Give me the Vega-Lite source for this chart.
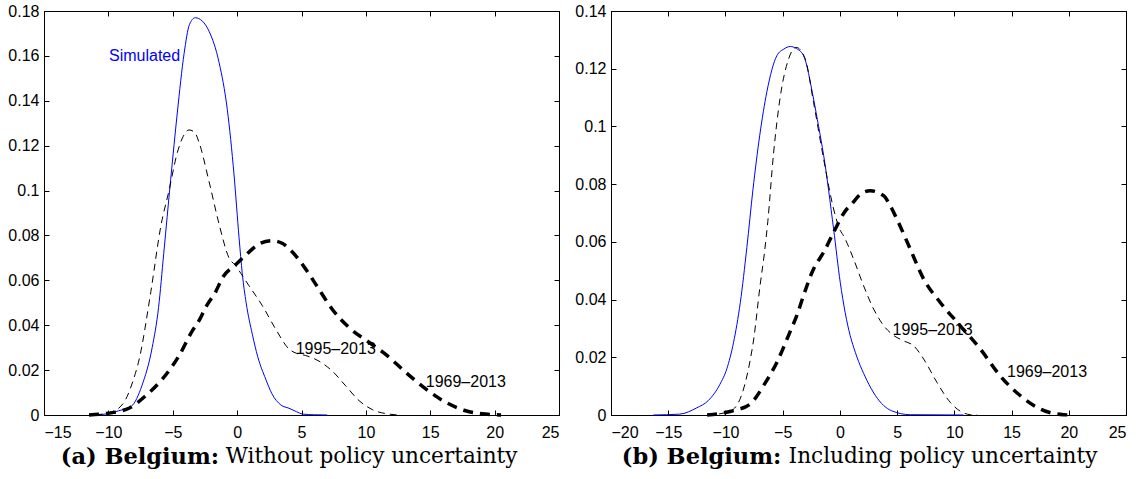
{
  "$schema": "https://vega.github.io/schema/vega-lite/v6.json",
  "padding": {"left": 7, "top": 2, "right": 5, "bottom": 5},
  "background": "white",
  "spacing": 14,
  "config": {
    "view": {"stroke": "black", "strokeWidth": 1},
    "axis": {
      "grid": false,
      "domainColor": "black",
      "tickColor": "black",
      "labelColor": "black",
      "labelFont": "Liberation Sans",
      "labelFontSize": 16,
      "tickSize": -5,
      "labelPadding": 14,
      "title": null
    },
    "text": {"font": "Liberation Sans", "fontSize": 16}
  },
  "datasets": {
    "curves": [
      {"panel": "a", "series": "Simulated", "x": -11.2, "y": 0},
      {"panel": "a", "series": "Simulated", "x": -10, "y": 0.0006},
      {"panel": "a", "series": "Simulated", "x": -9.2, "y": 0.0019},
      {"panel": "a", "series": "Simulated", "x": -8.2, "y": 0.004},
      {"panel": "a", "series": "Simulated", "x": -7.4, "y": 0.013},
      {"panel": "a", "series": "Simulated", "x": -6.6, "y": 0.03},
      {"panel": "a", "series": "Simulated", "x": -6.1, "y": 0.048},
      {"panel": "a", "series": "Simulated", "x": -5.7, "y": 0.072},
      {"panel": "a", "series": "Simulated", "x": -5.16, "y": 0.105},
      {"panel": "a", "series": "Simulated", "x": -4.64, "y": 0.135},
      {"panel": "a", "series": "Simulated", "x": -4.12, "y": 0.161},
      {"panel": "a", "series": "Simulated", "x": -3.7, "y": 0.174},
      {"panel": "a", "series": "Simulated", "x": -3.25, "y": 0.177},
      {"panel": "a", "series": "Simulated", "x": -2.7, "y": 0.1755},
      {"panel": "a", "series": "Simulated", "x": -2.18, "y": 0.171},
      {"panel": "a", "series": "Simulated", "x": -1.4, "y": 0.157},
      {"panel": "a", "series": "Simulated", "x": -0.76, "y": 0.136},
      {"panel": "a", "series": "Simulated", "x": -0.24, "y": 0.107},
      {"panel": "a", "series": "Simulated", "x": 0.15, "y": 0.079},
      {"panel": "a", "series": "Simulated", "x": 0.4, "y": 0.063},
      {"panel": "a", "series": "Simulated", "x": 0.7, "y": 0.05},
      {"panel": "a", "series": "Simulated", "x": 1.18, "y": 0.036},
      {"panel": "a", "series": "Simulated", "x": 1.6, "y": 0.026},
      {"panel": "a", "series": "Simulated", "x": 2.22, "y": 0.016},
      {"panel": "a", "series": "Simulated", "x": 2.7, "y": 0.0095},
      {"panel": "a", "series": "Simulated", "x": 3.39, "y": 0.0045},
      {"panel": "a", "series": "Simulated", "x": 4.03, "y": 0.003},
      {"panel": "a", "series": "Simulated", "x": 4.6, "y": 0.0015},
      {"panel": "a", "series": "Simulated", "x": 5.1, "y": 0.0004},
      {"panel": "a", "series": "Simulated", "x": 6, "y": 0.0001},
      {"panel": "a", "series": "Simulated", "x": 7, "y": 0},
      {"panel": "a", "series": "1995–2013", "x": -11, "y": 0},
      {"panel": "a", "series": "1995–2013", "x": -10.2, "y": 0.0007},
      {"panel": "a", "series": "1995–2013", "x": -9.7, "y": 0.0015},
      {"panel": "a", "series": "1995–2013", "x": -9.2, "y": 0.003},
      {"panel": "a", "series": "1995–2013", "x": -8.65, "y": 0.007},
      {"panel": "a", "series": "1995–2013", "x": -8.1, "y": 0.015},
      {"panel": "a", "series": "1995–2013", "x": -7.6, "y": 0.025},
      {"panel": "a", "series": "1995–2013", "x": -6.7, "y": 0.055},
      {"panel": "a", "series": "1995–2013", "x": -5.93, "y": 0.084},
      {"panel": "a", "series": "1995–2013", "x": -5.29, "y": 0.1},
      {"panel": "a", "series": "1995–2013", "x": -4.64, "y": 0.117},
      {"panel": "a", "series": "1995–2013", "x": -4.2, "y": 0.124},
      {"panel": "a", "series": "1995–2013", "x": -3.74, "y": 0.127},
      {"panel": "a", "series": "1995–2013", "x": -3.3, "y": 0.126},
      {"panel": "a", "series": "1995–2013", "x": -2.96, "y": 0.1215},
      {"panel": "a", "series": "1995–2013", "x": -2.18, "y": 0.104},
      {"panel": "a", "series": "1995–2013", "x": -1.4, "y": 0.085},
      {"panel": "a", "series": "1995–2013", "x": -0.63, "y": 0.07},
      {"panel": "a", "series": "1995–2013", "x": -0.11, "y": 0.0665},
      {"panel": "a", "series": "1995–2013", "x": 0.3, "y": 0.063},
      {"panel": "a", "series": "1995–2013", "x": 0.92, "y": 0.0576},
      {"panel": "a", "series": "1995–2013", "x": 1.96, "y": 0.0487},
      {"panel": "a", "series": "1995–2013", "x": 2.99, "y": 0.0383},
      {"panel": "a", "series": "1995–2013", "x": 4.03, "y": 0.0294},
      {"panel": "a", "series": "1995–2013", "x": 4.6, "y": 0.0275},
      {"panel": "a", "series": "1995–2013", "x": 5.33, "y": 0.0265},
      {"panel": "a", "series": "1995–2013", "x": 6.36, "y": 0.024},
      {"panel": "a", "series": "1995–2013", "x": 7.4, "y": 0.0195},
      {"panel": "a", "series": "1995–2013", "x": 8.43, "y": 0.013},
      {"panel": "a", "series": "1995–2013", "x": 9.47, "y": 0.0064},
      {"panel": "a", "series": "1995–2013", "x": 10.5, "y": 0.0024},
      {"panel": "a", "series": "1995–2013", "x": 11.8, "y": 0.0004},
      {"panel": "a", "series": "1995–2013", "x": 12.5, "y": 0},
      {"panel": "a", "series": "1969–2013", "x": -11.5, "y": 0},
      {"panel": "a", "series": "1969–2013", "x": -10, "y": 0.0008},
      {"panel": "a", "series": "1969–2013", "x": -9, "y": 0.0018},
      {"panel": "a", "series": "1969–2013", "x": -8.4, "y": 0.003},
      {"panel": "a", "series": "1969–2013", "x": -7.1, "y": 0.0086},
      {"panel": "a", "series": "1969–2013", "x": -5.81, "y": 0.016},
      {"panel": "a", "series": "1969–2013", "x": -4.51, "y": 0.0264},
      {"panel": "a", "series": "1969–2013", "x": -3.48, "y": 0.0375},
      {"panel": "a", "series": "1969–2013", "x": -2.96, "y": 0.042},
      {"panel": "a", "series": "1969–2013", "x": -2.44, "y": 0.048},
      {"panel": "a", "series": "1969–2013", "x": -1.66, "y": 0.055},
      {"panel": "a", "series": "1969–2013", "x": -1.15, "y": 0.061},
      {"panel": "a", "series": "1969–2013", "x": -0.11, "y": 0.067},
      {"panel": "a", "series": "1969–2013", "x": 0.92, "y": 0.0726},
      {"panel": "a", "series": "1969–2013", "x": 1.8, "y": 0.0765},
      {"panel": "a", "series": "1969–2013", "x": 2.7, "y": 0.0777},
      {"panel": "a", "series": "1969–2013", "x": 3.5, "y": 0.0765},
      {"panel": "a", "series": "1969–2013", "x": 4.29, "y": 0.0726},
      {"panel": "a", "series": "1969–2013", "x": 5.33, "y": 0.065},
      {"panel": "a", "series": "1969–2013", "x": 6.36, "y": 0.056},
      {"panel": "a", "series": "1969–2013", "x": 7.4, "y": 0.047},
      {"panel": "a", "series": "1969–2013", "x": 8.69, "y": 0.039},
      {"panel": "a", "series": "1969–2013", "x": 10.24, "y": 0.0324},
      {"panel": "a", "series": "1969–2013", "x": 11.54, "y": 0.027},
      {"panel": "a", "series": "1969–2013", "x": 13.1, "y": 0.019},
      {"panel": "a", "series": "1969–2013", "x": 14.65, "y": 0.0116},
      {"panel": "a", "series": "1969–2013", "x": 16.2, "y": 0.0057},
      {"panel": "a", "series": "1969–2013", "x": 17.76, "y": 0.0019},
      {"panel": "a", "series": "1969–2013", "x": 19.3, "y": 0.0004},
      {"panel": "a", "series": "1969–2013", "x": 20.5, "y": 0},
      {"panel": "b", "series": "Simulated", "x": -16.3, "y": 0},
      {"panel": "b", "series": "Simulated", "x": -14, "y": 0.0003},
      {"panel": "b", "series": "Simulated", "x": -12.5, "y": 0.0025},
      {"panel": "b", "series": "Simulated", "x": -11.5, "y": 0.005},
      {"panel": "b", "series": "Simulated", "x": -10.5, "y": 0.0105},
      {"panel": "b", "series": "Simulated", "x": -9.88, "y": 0.016},
      {"panel": "b", "series": "Simulated", "x": -9.3, "y": 0.025},
      {"panel": "b", "series": "Simulated", "x": -8.7, "y": 0.039},
      {"panel": "b", "series": "Simulated", "x": -8.13, "y": 0.058},
      {"panel": "b", "series": "Simulated", "x": -7.6, "y": 0.078},
      {"panel": "b", "series": "Simulated", "x": -7.0, "y": 0.097},
      {"panel": "b", "series": "Simulated", "x": -6.38, "y": 0.112},
      {"panel": "b", "series": "Simulated", "x": -5.51, "y": 0.1245},
      {"panel": "b", "series": "Simulated", "x": -4.9, "y": 0.1268},
      {"panel": "b", "series": "Simulated", "x": -4.34, "y": 0.1277},
      {"panel": "b", "series": "Simulated", "x": -3.8, "y": 0.127},
      {"panel": "b", "series": "Simulated", "x": -3.17, "y": 0.1245},
      {"panel": "b", "series": "Simulated", "x": -2.3, "y": 0.1095},
      {"panel": "b", "series": "Simulated", "x": -1.86, "y": 0.1},
      {"panel": "b", "series": "Simulated", "x": -1.42, "y": 0.09},
      {"panel": "b", "series": "Simulated", "x": -0.55, "y": 0.0645},
      {"panel": "b", "series": "Simulated", "x": 0.03, "y": 0.046},
      {"panel": "b", "series": "Simulated", "x": 0.9, "y": 0.0275},
      {"panel": "b", "series": "Simulated", "x": 1.2, "y": 0.0235},
      {"panel": "b", "series": "Simulated", "x": 2.36, "y": 0.012},
      {"panel": "b", "series": "Simulated", "x": 3.82, "y": 0.0033},
      {"panel": "b", "series": "Simulated", "x": 4.5, "y": 0.0015},
      {"panel": "b", "series": "Simulated", "x": 6.15, "y": 0.0001},
      {"panel": "b", "series": "Simulated", "x": 10.8, "y": 0},
      {"panel": "b", "series": "1995–2013", "x": -11.6, "y": 0},
      {"panel": "b", "series": "1995–2013", "x": -10, "y": 0.0008},
      {"panel": "b", "series": "1995–2013", "x": -9.3, "y": 0.002},
      {"panel": "b", "series": "1995–2013", "x": -8.42, "y": 0.009},
      {"panel": "b", "series": "1995–2013", "x": -7.84, "y": 0.019},
      {"panel": "b", "series": "1995–2013", "x": -7.54, "y": 0.026},
      {"panel": "b", "series": "1995–2013", "x": -6.97, "y": 0.045},
      {"panel": "b", "series": "1995–2013", "x": -6.6, "y": 0.056},
      {"panel": "b", "series": "1995–2013", "x": -6.3, "y": 0.067},
      {"panel": "b", "series": "1995–2013", "x": -5.8, "y": 0.0905},
      {"panel": "b", "series": "1995–2013", "x": -5.22, "y": 0.11},
      {"panel": "b", "series": "1995–2013", "x": -4.48, "y": 0.1234},
      {"panel": "b", "series": "1995–2013", "x": -3.82, "y": 0.1274},
      {"panel": "b", "series": "1995–2013", "x": -3.03, "y": 0.1234},
      {"panel": "b", "series": "1995–2013", "x": -2.3, "y": 0.1083},
      {"panel": "b", "series": "1995–2013", "x": -1.42, "y": 0.0887},
      {"panel": "b", "series": "1995–2013", "x": -0.55, "y": 0.0714},
      {"panel": "b", "series": "1995–2013", "x": 0.03, "y": 0.064},
      {"panel": "b", "series": "1995–2013", "x": 0.32, "y": 0.0621},
      {"panel": "b", "series": "1995–2013", "x": 1.2, "y": 0.054},
      {"panel": "b", "series": "1995–2013", "x": 2.07, "y": 0.0448},
      {"panel": "b", "series": "1995–2013", "x": 2.95, "y": 0.0367},
      {"panel": "b", "series": "1995–2013", "x": 3.82, "y": 0.031},
      {"panel": "b", "series": "1995–2013", "x": 4.55, "y": 0.028},
      {"panel": "b", "series": "1995–2013", "x": 5.57, "y": 0.0257},
      {"panel": "b", "series": "1995–2013", "x": 6.44, "y": 0.024},
      {"panel": "b", "series": "1995–2013", "x": 7.32, "y": 0.0194},
      {"panel": "b", "series": "1995–2013", "x": 8.48, "y": 0.0113},
      {"panel": "b", "series": "1995–2013", "x": 9.64, "y": 0.0044},
      {"panel": "b", "series": "1995–2013", "x": 11.4, "y": 0.0001},
      {"panel": "b", "series": "1995–2013", "x": 12, "y": 0},
      {"panel": "b", "series": "1969–2013", "x": -11.6, "y": 0},
      {"panel": "b", "series": "1969–2013", "x": -10.5, "y": 0.0005},
      {"panel": "b", "series": "1969–2013", "x": -9.3, "y": 0.0015},
      {"panel": "b", "series": "1969–2013", "x": -7.84, "y": 0.0038},
      {"panel": "b", "series": "1969–2013", "x": -6.67, "y": 0.0102},
      {"panel": "b", "series": "1969–2013", "x": -5.5, "y": 0.0183},
      {"panel": "b", "series": "1969–2013", "x": -4.34, "y": 0.029},
      {"panel": "b", "series": "1969–2013", "x": -3.76, "y": 0.0345},
      {"panel": "b", "series": "1969–2013", "x": -3.17, "y": 0.0415},
      {"panel": "b", "series": "1969–2013", "x": -2.3, "y": 0.0506},
      {"panel": "b", "series": "1969–2013", "x": -1.72, "y": 0.0545},
      {"panel": "b", "series": "1969–2013", "x": -1.42, "y": 0.0564},
      {"panel": "b", "series": "1969–2013", "x": -0.55, "y": 0.0633},
      {"panel": "b", "series": "1969–2013", "x": 0.61, "y": 0.0714},
      {"panel": "b", "series": "1969–2013", "x": 0.9, "y": 0.0725},
      {"panel": "b", "series": "1969–2013", "x": 1.8, "y": 0.0765},
      {"panel": "b", "series": "1969–2013", "x": 2.65, "y": 0.0777},
      {"panel": "b", "series": "1969–2013", "x": 3.82, "y": 0.076},
      {"panel": "b", "series": "1969–2013", "x": 4.4, "y": 0.0725},
      {"panel": "b", "series": "1969–2013", "x": 4.98, "y": 0.0679},
      {"panel": "b", "series": "1969–2013", "x": 6.15, "y": 0.0575},
      {"panel": "b", "series": "1969–2013", "x": 7.32, "y": 0.0471},
      {"panel": "b", "series": "1969–2013", "x": 8.77, "y": 0.039},
      {"panel": "b", "series": "1969–2013", "x": 10.5, "y": 0.031},
      {"panel": "b", "series": "1969–2013", "x": 12.26, "y": 0.0229},
      {"panel": "b", "series": "1969–2013", "x": 14, "y": 0.0136},
      {"panel": "b", "series": "1969–2013", "x": 15.76, "y": 0.0067},
      {"panel": "b", "series": "1969–2013", "x": 17.5, "y": 0.0021},
      {"panel": "b", "series": "1969–2013", "x": 19.55, "y": 0.0001},
      {"panel": "b", "series": "1969–2013", "x": 20.4, "y": 0}
    ],
    "labels": [
      {"panel": "a", "label": "Simulated", "x": -9.95, "y": 0.16, "color": "blue"},
      {"panel": "a", "label": "1995–2013", "x": 4.55, "y": 0.0294, "color": "black"},
      {"panel": "a", "label": "1969–2013", "x": 14.65, "y": 0.0148, "color": "black"},
      {"panel": "b", "label": "1995–2013", "x": 4.6, "y": 0.0295, "color": "black"},
      {"panel": "b", "label": "1969–2013", "x": 14.6, "y": 0.0148, "color": "black"}
    ],
    "captions": [
      {"panel": "a", "part": "bold", "text": "(a) Belgium:", "x": -13.7, "y": -0.0186},
      {"panel": "a", "part": "normal", "text": "Without policy uncertainty", "x": -0.89, "y": -0.0186},
      {"panel": "b", "part": "bold", "text": "(b) Belgium:", "x": -19.06, "y": -0.0145},
      {"panel": "b", "part": "normal", "text": "Including policy uncertainty", "x": -4.48, "y": -0.0145}
    ],
    "frame": [{"x": 0, "y": 0}]
  },
  "hconcat": [
    {
      "width": 515,
      "height": 404,
      "resolve": {"axis": {"x": "independent", "y": "independent"}},
      "layer": [
        {
          "data": {"name": "curves"},
          "transform": [{"filter": "datum.panel === 'a' && datum.series === 'Simulated'"}],
          "mark": {"type": "line", "interpolate": "monotone", "color": "#0000ff", "strokeWidth": 1},
          "encoding": {
            "x": {"field": "x", "type": "quantitative", "scale": {"domain": [-15, 25], "nice": false, "zero": false},
                  "axis": {"orient": "bottom", "values": [-15, -10, -5, 0, 5, 10, 15, 20, 25]}},
            "y": {"field": "y", "type": "quantitative", "scale": {"domain": [0, 0.18], "nice": false, "zero": false},
                  "axis": {"orient": "left", "values": [0, 0.02, 0.04, 0.06, 0.08, 0.1, 0.12, 0.14, 0.16, 0.18], "format": ".2~f", "labelPadding": 10}}
          }
        },
        {
          "data": {"name": "curves"},
          "transform": [{"filter": "datum.panel === 'a' && datum.series === '1995–2013'"}],
          "mark": {"type": "line", "interpolate": "monotone", "color": "black", "strokeWidth": 1, "strokeDash": [7, 5]},
          "encoding": {
            "x": {"field": "x", "type": "quantitative", "axis": null},
            "y": {"field": "y", "type": "quantitative", "axis": null}
          }
        },
        {
          "data": {"name": "curves"},
          "transform": [{"filter": "datum.panel === 'a' && datum.series === '1969–2013'"}],
          "mark": {"type": "line", "interpolate": "monotone", "color": "black", "strokeWidth": 3.5, "strokeDash": [10, 7]},
          "encoding": {
            "x": {"field": "x", "type": "quantitative", "axis": null},
            "y": {"field": "y", "type": "quantitative", "axis": null}
          }
        },
        {
          "data": {"name": "labels"},
          "transform": [{"filter": "datum.panel === 'a'"}],
          "mark": {"type": "text", "align": "left", "baseline": "middle", "fontSize": 16},
          "encoding": {
            "x": {"field": "x", "type": "quantitative", "axis": null},
            "y": {"field": "y", "type": "quantitative", "axis": null},
            "text": {"field": "label"},
            "color": {"field": "color", "type": "nominal", "scale": null}
          }
        },
        {
          "data": {"name": "captions"},
          "transform": [{"filter": "datum.panel === 'a' && datum.part === 'bold'"}],
          "mark": {"type": "text", "align": "left", "baseline": "middle", "font": "DejaVu Serif", "fontSize": 22.5, "fontWeight": "bold", "color": "black"},
          "encoding": {
            "x": {"field": "x", "type": "quantitative", "axis": null},
            "y": {"field": "y", "type": "quantitative", "axis": null},
            "text": {"field": "text"}
          }
        },
        {
          "data": {"name": "captions"},
          "transform": [{"filter": "datum.panel === 'a' && datum.part === 'normal'"}],
          "mark": {"type": "text", "align": "left", "baseline": "middle", "font": "DejaVu Serif", "fontSize": 21.6, "color": "black"},
          "encoding": {
            "x": {"field": "x", "type": "quantitative", "axis": null},
            "y": {"field": "y", "type": "quantitative", "axis": null},
            "text": {"field": "text"}
          }
        },
        {
          "data": {"name": "frame"},
          "mark": {"type": "point", "opacity": 0},
          "encoding": {
            "x": {"field": "x", "type": "quantitative", "axis": {"orient": "top", "labels": false, "values": [-15, -10, -5, 0, 5, 10, 15, 20, 25]}},
            "y": {"field": "y", "type": "quantitative", "axis": {"orient": "right", "labels": false, "values": [0, 0.02, 0.04, 0.06, 0.08, 0.1, 0.12, 0.14, 0.16, 0.18]}}
          }
        }
      ]
    },
    {
      "width": 515,
      "height": 404,
      "resolve": {"axis": {"x": "independent", "y": "independent"}},
      "layer": [
        {
          "data": {"name": "curves"},
          "transform": [{"filter": "datum.panel === 'b' && datum.series === 'Simulated'"}],
          "mark": {"type": "line", "interpolate": "monotone", "color": "#0000ff", "strokeWidth": 1},
          "encoding": {
            "x": {"field": "x", "type": "quantitative", "scale": {"domain": [-20, 25], "nice": false, "zero": false},
                  "axis": {"orient": "bottom", "values": [-20, -15, -10, -5, 0, 5, 10, 15, 20, 25]}},
            "y": {"field": "y", "type": "quantitative", "scale": {"domain": [0, 0.14], "nice": false, "zero": false},
                  "axis": {"orient": "left", "values": [0, 0.02, 0.04, 0.06, 0.08, 0.1, 0.12, 0.14], "format": ".2~f", "labelPadding": 10}}
          }
        },
        {
          "data": {"name": "curves"},
          "transform": [{"filter": "datum.panel === 'b' && datum.series === '1995–2013'"}],
          "mark": {"type": "line", "interpolate": "monotone", "color": "black", "strokeWidth": 1, "strokeDash": [7, 5]},
          "encoding": {
            "x": {"field": "x", "type": "quantitative", "axis": null},
            "y": {"field": "y", "type": "quantitative", "axis": null}
          }
        },
        {
          "data": {"name": "curves"},
          "transform": [{"filter": "datum.panel === 'b' && datum.series === '1969–2013'"}],
          "mark": {"type": "line", "interpolate": "monotone", "color": "black", "strokeWidth": 3.5, "strokeDash": [10, 7]},
          "encoding": {
            "x": {"field": "x", "type": "quantitative", "axis": null},
            "y": {"field": "y", "type": "quantitative", "axis": null}
          }
        },
        {
          "data": {"name": "labels"},
          "transform": [{"filter": "datum.panel === 'b'"}],
          "mark": {"type": "text", "align": "left", "baseline": "middle", "fontSize": 16},
          "encoding": {
            "x": {"field": "x", "type": "quantitative", "axis": null},
            "y": {"field": "y", "type": "quantitative", "axis": null},
            "text": {"field": "label"},
            "color": {"field": "color", "type": "nominal", "scale": null}
          }
        },
        {
          "data": {"name": "captions"},
          "transform": [{"filter": "datum.panel === 'b' && datum.part === 'bold'"}],
          "mark": {"type": "text", "align": "left", "baseline": "middle", "font": "DejaVu Serif", "fontSize": 22.5, "fontWeight": "bold", "color": "black"},
          "encoding": {
            "x": {"field": "x", "type": "quantitative", "axis": null},
            "y": {"field": "y", "type": "quantitative", "axis": null},
            "text": {"field": "text"}
          }
        },
        {
          "data": {"name": "captions"},
          "transform": [{"filter": "datum.panel === 'b' && datum.part === 'normal'"}],
          "mark": {"type": "text", "align": "left", "baseline": "middle", "font": "DejaVu Serif", "fontSize": 21.6, "color": "black"},
          "encoding": {
            "x": {"field": "x", "type": "quantitative", "axis": null},
            "y": {"field": "y", "type": "quantitative", "axis": null},
            "text": {"field": "text"}
          }
        },
        {
          "data": {"name": "frame"},
          "mark": {"type": "point", "opacity": 0},
          "encoding": {
            "x": {"field": "x", "type": "quantitative", "axis": {"orient": "top", "labels": false, "values": [-20, -15, -10, -5, 0, 5, 10, 15, 20, 25]}},
            "y": {"field": "y", "type": "quantitative", "axis": {"orient": "right", "labels": false, "values": [0, 0.02, 0.04, 0.06, 0.08, 0.1, 0.12, 0.14]}}
          }
        }
      ]
    }
  ]
}
